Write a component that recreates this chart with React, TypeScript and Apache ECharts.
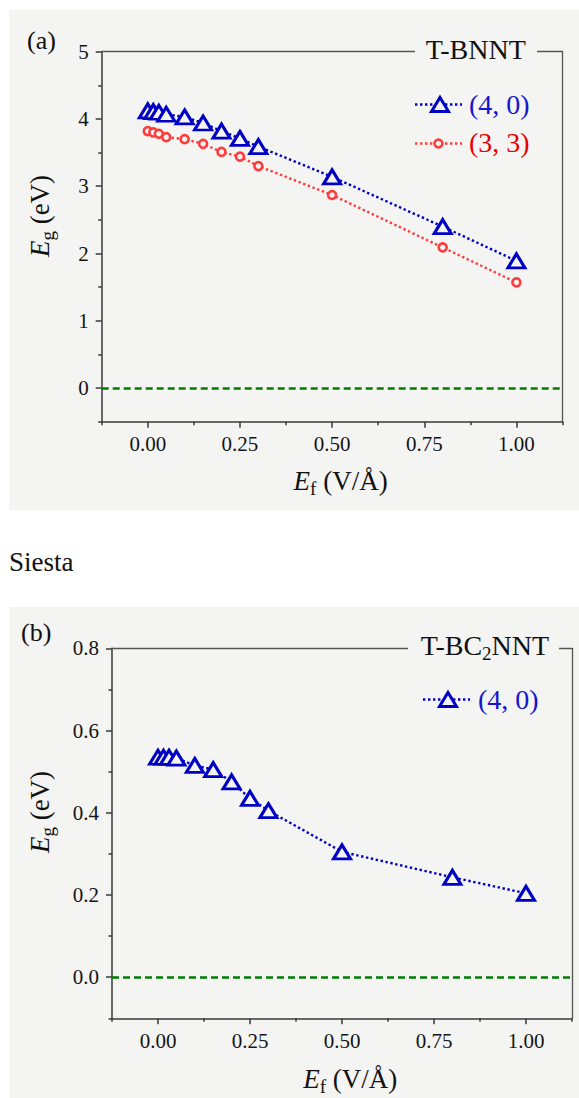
import React, { useEffect, useRef } from "react";
import * as echarts from "echarts";

// ---------------- data ----------------
const fieldA = [0, 0.015, 0.03, 0.05, 0.1, 0.15, 0.2, 0.25, 0.3, 0.5, 0.8, 1.0];
const gapBNNT40 = [4.12, 4.11, 4.1, 4.07, 4.03, 3.94, 3.82, 3.71, 3.59, 3.14, 2.4, 1.89];
const gapBNNT33 = [3.82, 3.8, 3.78, 3.73, 3.7, 3.63, 3.51, 3.44, 3.3, 2.87, 2.09, 1.57];
const fieldB = [0, 0.015, 0.03, 0.05, 0.1, 0.15, 0.2, 0.25, 0.3, 0.5, 0.8, 1.0];
const gapBC2N40 = [0.535, 0.535, 0.535, 0.533, 0.515, 0.505, 0.475, 0.435, 0.405, 0.305, 0.243, 0.204];

const xMajorTicks = [0, 0.25, 0.5, 0.75, 1.0];
const xMinorTicks = [-0.125, 0.125, 0.375, 0.625, 0.875, 1.125];
const yMajorTicksA = [0, 1, 2, 3, 4, 5];
const yMinorTicksA = [-0.5, 0.5, 1.5, 2.5, 3.5, 4.5];
const yMajorTicksB = [0, 0.2, 0.4, 0.6, 0.8];
const yMinorTicksB = [-0.1, 0.1, 0.3, 0.5, 0.7];

const legendA = ["(4, 0)", "(3, 3)"];
const legendB = ["(4, 0)"];

// ---------------- style ----------------
const SERIF = "'Liberation Serif', 'Times New Roman', serif";
const BLUE = "#0000c4";
const BLUE_TEXT = "#1616cc";
const RED = "#ff3b3b";
const RED_TEXT = "#e80000";
const GREEN = "#007c00";
const AX = "#3a3a3a";
const BOX = "#555555";
const LABEL = "#141414";
const PANEL = "#f4f4f3";

let measureCtx: CanvasRenderingContext2D | null = null;
function textWidth(t: string, size: number, italic?: boolean) {
  if (!measureCtx) measureCtx = document.createElement("canvas").getContext("2d");
  if (!measureCtx) return t.length * size * 0.5;
  measureCtx.font = `${italic ? "italic " : ""}${size}px ${SERIF}`;
  return measureCtx.measureText(t).width;
}

type Seg = { t: string; size: number; italic?: boolean; dy?: number };

function segWidth(segs: Seg[]) {
  return segs.reduce((s, g) => s + textWidth(g.t, g.size, g.italic), 0);
}

function segTexts(segs: Seg[], x0: number, y0: number, color: string, z: number) {
  let x = x0;
  return segs.map((s) => {
    const el = {
      type: "text",
      x,
      y: y0 + (s.dy || 0),
      z,
      style: {
        text: s.t,
        fontSize: s.size,
        fontFamily: SERIF,
        fontStyle: s.italic ? "italic" : "normal",
        fill: color,
        textAlign: "left",
        textVerticalAlign: "middle",
      },
    };
    x += textWidth(s.t, s.size, s.italic);
    return el;
  });
}

const X_MIN = -0.125;
const X_MAX = 1.125;

function xAxesFor(grid: number) {
  const base = { type: "value", gridIndex: grid, min: X_MIN, max: X_MAX, splitLine: { show: false } };
  return [
    {
      ...base,
      position: "bottom",
      axisLine: { show: true, onZero: false, lineStyle: { color: AX, width: 1.5 } },
      axisTick: { show: true, customValues: xMajorTicks, length: 6, lineStyle: { color: AX, width: 1.5 } },
      axisLabel: {
        show: true,
        customValues: xMajorTicks,
        formatter: (v: number) => v.toFixed(2),
        margin: 12,
        fontSize: 21,
        fontFamily: SERIF,
        color: LABEL,
      },
    },
    {
      ...base,
      position: "bottom",
      axisLine: { show: false, onZero: false },
      axisTick: { show: true, customValues: xMinorTicks, length: 3.5, lineStyle: { color: AX, width: 1.5 } },
      axisLabel: { show: false },
    },
    {
      ...base,
      position: "top",
      axisLine: { show: true, onZero: false, lineStyle: { color: BOX, width: 1.3 } },
      axisTick: { show: false },
      axisLabel: { show: false },
    },
  ];
}

function yAxesFor(grid: number, min: number, max: number, major: number[], minor: number[], digits: number) {
  const base = { type: "value", gridIndex: grid, min, max, splitLine: { show: false } };
  return [
    {
      ...base,
      position: "left",
      axisLine: { show: true, onZero: false, lineStyle: { color: AX, width: 1.5 } },
      axisTick: { show: true, customValues: major, length: 6, lineStyle: { color: AX, width: 1.5 } },
      axisLabel: {
        show: true,
        customValues: major,
        formatter: (v: number) => v.toFixed(digits),
        margin: 13,
        fontSize: 21,
        fontFamily: SERIF,
        color: LABEL,
      },
    },
    {
      ...base,
      position: "left",
      axisLine: { show: false, onZero: false },
      axisTick: { show: true, customValues: minor, length: 3.5, lineStyle: { color: AX, width: 1.5 } },
      axisLabel: { show: false },
    },
    {
      ...base,
      position: "right",
      axisLine: { show: true, onZero: false, lineStyle: { color: BOX, width: 1.3 } },
      axisTick: { show: false },
      axisLabel: { show: false },
    },
  ];
}

const zeroLine = {
  silent: true,
  symbol: "none",
  label: { show: false },
  lineStyle: { color: GREEN, type: [7, 4], width: 2.6 },
  data: [{ yAxis: 0 }],
};

function triSeries(name: string, xs: number[], ys: number[], xi: number, yi: number, withZero: boolean) {
  return {
    type: "line",
    name,
    xAxisIndex: xi,
    yAxisIndex: yi,
    data: xs.map((x, i) => [x, ys[i]]),
    symbol: "triangle",
    symbolSize: [17, 14],
    showAllSymbol: true,
    itemStyle: { color: PANEL, borderColor: BLUE, borderWidth: 3 },
    lineStyle: { color: BLUE, width: 2.4, type: [2.4, 2.6] },
    z: 5,
    markLine: withZero ? zeroLine : undefined,
  };
}

function circSeries(name: string, xs: number[], ys: number[], xi: number, yi: number) {
  return {
    type: "line",
    name,
    xAxisIndex: xi,
    yAxisIndex: yi,
    data: xs.map((x, i) => [x, ys[i]]),
    symbol: "circle",
    symbolSize: 8,
    showAllSymbol: true,
    itemStyle: { color: PANEL, borderColor: RED, borderWidth: 2.6 },
    lineStyle: { color: RED, width: 2.4, type: [2.4, 2.6] },
    z: 4,
  };
}

function legendRow(cx: number, cy: number, lineL: number, lineR: number, kind: "tri" | "circ", label: string, textX: number, textY: number) {
  const color = kind === "tri" ? BLUE : RED;
  const items: any[] = [
    {
      type: "line",
      z: 60,
      shape: { x1: lineL, y1: cy, x2: lineR, y2: cy },
      style: { stroke: color, lineWidth: 2.4, lineDash: [2.4, 2.6] },
    },
  ];
  if (kind === "tri") {
    items.push({
      type: "polygon",
      z: 61,
      shape: { points: [[cx, cy - 7], [cx + 8.5, cy + 7], [cx - 8.5, cy + 7]] },
      style: { fill: PANEL, stroke: color, lineWidth: 3 },
    });
  } else {
    items.push({
      type: "circle",
      z: 61,
      shape: { cx, cy, r: 4 },
      style: { fill: PANEL, stroke: color, lineWidth: 2.6 },
    });
  }
  items.push({
    type: "text",
    z: 61,
    x: textX,
    y: textY,
    style: {
      text: label,
      fontSize: 28,
      fontFamily: SERIF,
      fill: kind === "tri" ? BLUE_TEXT : RED_TEXT,
      textAlign: "left",
      textVerticalAlign: "middle",
    },
  });
  return items;
}

function buildGraphics() {
  const g: any[] = [];
  // panels
  g.push({ type: "rect", z: -10, shape: { x: 9, y: 10, width: 570, height: 500 }, style: { fill: PANEL } });
  g.push({ type: "rect", z: -10, shape: { x: 9, y: 607, width: 570, height: 491 }, style: { fill: PANEL } });

  // panel letters
  g.push({ type: "text", z: 60, x: 27, y: 40, style: { text: "(a)", fontSize: 26, fontFamily: SERIF, fill: "#111", textAlign: "left", textVerticalAlign: "middle" } });
  g.push({ type: "text", z: 60, x: 21, y: 632, style: { text: "(b)", fontSize: 26, fontFamily: SERIF, fill: "#111", textAlign: "left", textVerticalAlign: "middle" } });

  // "Siesta"
  g.push({ type: "text", z: 60, x: 9, y: 562, style: { text: "Siesta", fontSize: 27, fontFamily: SERIF, fill: "#111", textAlign: "left", textVerticalAlign: "middle" } });

  // titles breaking top border
  g.push({ type: "rect", z: 55, shape: { x: 415, y: 45, width: 122, height: 13 }, style: { fill: PANEL } });
  const tA: Seg[] = [{ t: "T-BNNT", size: 28 }];
  g.push(...segTexts(tA, 475.8 - segWidth(tA) / 2, 49, "#111", 60));

  g.push({ type: "rect", z: 55, shape: { x: 408, y: 642, width: 151, height: 13 }, style: { fill: PANEL } });
  const tB: Seg[] = [
    { t: "T-BC", size: 28 },
    { t: "2", size: 19, dy: 8 },
    { t: "NNT", size: 28 },
  ];
  g.push(...segTexts(tB, 485 - segWidth(tB) / 2, 645.5, "#111", 60));

  // axis titles
  const xTitle: Seg[] = [
    { t: "E", size: 27, italic: true },
    { t: "f", size: 19, dy: 7 },
    { t: " (V/\u00C5)", size: 27 },
  ];
  g.push(...segTexts(xTitle, 293.6, 481, "#111", 60));
  g.push(...segTexts(xTitle, 303.3, 1079, "#111", 60));

  const yTitle: Seg[] = [
    { t: "E", size: 27, italic: true },
    { t: "g", size: 19, dy: 7 },
    { t: " (eV)", size: 27 },
  ];
  const yw = segWidth(yTitle);
  g.push({ type: "group", x: 40, y: 216, rotation: Math.PI / 2, children: segTexts(yTitle, -yw / 2, 0, "#111", 60) });
  g.push({ type: "group", x: 40, y: 812, rotation: Math.PI / 2, children: segTexts(yTitle, -yw / 2, 0, "#111", 60) });

  // legends
  g.push(...legendRow(440, 104.5, 415, 462, "tri", legendA[0], 469, 104));
  g.push(...legendRow(438.5, 143.5, 415, 462, "circ", legendA[1], 469, 142));
  g.push(...legendRow(448, 699.5, 423, 470, "tri", legendB[0], 478, 699));
  return g;
}

function buildOption() {
  return {
    animation: false,
    backgroundColor: "#ffffff",
    textStyle: { fontFamily: SERIF },
    grid: [
      { left: 101.7, top: 51.7, width: 460.8, height: 370 },
      { left: 112, top: 648.3, width: 460, height: 370 },
    ],
    xAxis: [...xAxesFor(0), ...xAxesFor(1)],
    yAxis: [
      ...yAxesFor(0, -0.5, 5, yMajorTicksA, yMinorTicksA, 0),
      ...yAxesFor(1, -0.1, 0.8, yMajorTicksB, yMinorTicksB, 1),
    ],
    series: [
      triSeries(legendA[0], fieldA, gapBNNT40, 0, 0, true),
      circSeries(legendA[1], fieldA, gapBNNT33, 0, 0),
      triSeries(legendB[0] + " BC2N", fieldB, gapBC2N40, 3, 3, true),
    ],
    graphic: { elements: buildGraphics() },
  };
}

export default function App() {
  const ref = useRef<HTMLDivElement>(null);
  useEffect(() => {
    if (!ref.current) return;
    const chart = echarts.init(ref.current, null, { renderer: "svg" });
    chart.setOption(buildOption() as any);
    return () => chart.dispose();
  }, []);
  return (
    <div
      ref={ref}
      style={{ position: "absolute", left: 0, top: 0, width: 579, height: 1098, background: "#fff" }}
    />
  );
}
